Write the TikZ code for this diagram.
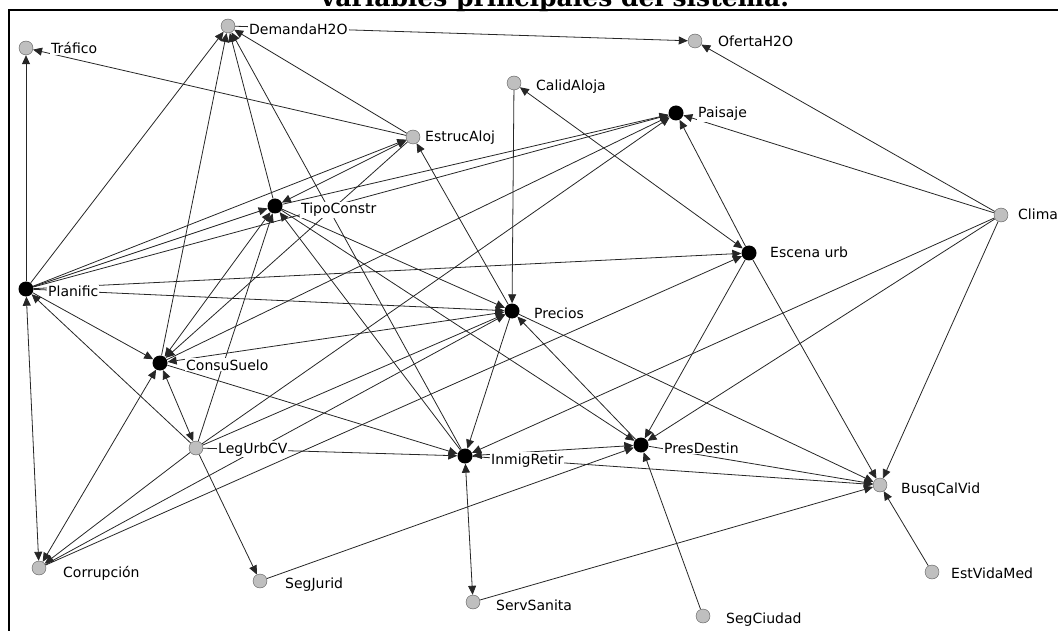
\documentclass[tikz,border=0pt]{standalone}
\usepackage{fontspec}
\setmainfont{DejaVu Sans}
\newfontfamily\titlefont{DejaVu Serif}
\usetikzlibrary{arrows.meta}
\pgfdeclarelayer{bg}
\pgfsetlayers{bg,main}

\begin{document}
\begin{tikzpicture}[x=1pt,y=-1pt,
  var/.style={circle,draw=black!65,fill=black!25,minimum size=14pt,inner sep=0pt},
  key/.style={circle,fill=black,minimum size=15pt,inner sep=0pt},
  lbl/.style={fill=white,inner sep=1pt,anchor=base west,font=\fontsize{14}{16}\selectfont},
  link/.style={draw=black!85,line width=0.8pt,-{Triangle[length=9pt,width=8pt]}},
  twoway/.style={link,{Triangle[length=9pt,width=8pt]}-{Triangle[length=9pt,width=8pt]}}]
  \useasboundingbox (0,0) rectangle (1058,631);
  \draw[line width=2pt] (9,10) rectangle (1075,645);
  \node[font=\titlefont\bfseries\fontsize{25}{28}\selectfont,anchor=base] (titulo) at (555,7) {variables principales del sistema.};

  % variables
  \node[var] (dem) at (228,26) {};
  \node[var] (traf) at (26,48) {};
  \node[var] (ofe) at (695,41) {};
  \node[var] (calid) at (514,83) {};
  \node[key] (paisaje) at (676,113) {};
  \node[var] (estruc) at (413,137) {};
  \node[key] (tipo) at (275,206) {};
  \node[var] (clima) at (1001,215) {};
  \node[key] (escena) at (749,253) {};
  \node[key] (plan) at (26,289) {};
  \node[key] (precios) at (512,311) {};
  \node[key] (consu) at (160,363) {};
  \node[var] (legurb) at (196,448) {};
  \node[key] (inmig) at (465,456) {};
  \node[key] (pres) at (641,445) {};
  \node[var] (busq) at (880,485) {};
  \node[var] (corr) at (39,568) {};
  \node[var] (segjur) at (260,581) {};
  \node[var] (estvid) at (932,572) {};
  \node[var] (serv) at (473,602) {};
  \node[var] (segciu) at (703,616) {};

  % labels
  \node[lbl] (tdem) at (248,35) {DemandaH2O};
  \node[lbl] (ttraf) at (50,54) {Tráfico};
  \node[lbl] (tofe) at (717,47) {OfertaH2O};
  \node[lbl] (tcalid) at (535,91) {CalidAloja};
  \node[lbl] (tpaisaje) at (697,118) {Paisaje};
  \node[lbl] (testruc) at (424,142) {EstrucAloj};
  \node[lbl] (ttipo) at (300,214) {TipoConstr};
  \node[lbl] (tclima) at (1017,220) {Clima};
  \node[lbl] (tescena) at (769,258) {Escena urb};
  \node[lbl] (tplan) at (47,297) {Planific};
  \node[lbl] (tprecios) at (533,319) {Precios};
  \node[lbl] (tconsu) at (185,370) {ConsuSuelo};
  \node[lbl] (tlegurb) at (217,453) {LegUrbCV};
  \node[lbl] (tinmig) at (490,464) {InmigRetir};
  \node[lbl] (tpres) at (663,453) {PresDestin};
  \node[lbl] (tbusq) at (900,493) {BusqCalVid};
  \node[lbl] (tcorr) at (62,577) {Corrupción};
  \node[lbl] (tsegjur) at (284,588) {SegJurid};
  \node[lbl] (tserv) at (495,610) {ServSanita};
  \node[lbl] (tsegciu) at (725,623) {SegCiudad};
  \node[lbl] (testvid) at (950,578) {EstVidaMed};

  \begin{pgfonlayer}{bg}
    \draw[link] (dem) -- (ofe);
    \foreach \t in {ofe,paisaje,inmig,pres,busq}
      \draw[link] (clima) -- (\t);
    \foreach \t in {traf,dem,paisaje,estruc,tipo,escena,precios,consu}
      \draw[link] (plan) -- (\t);
    \draw[twoway] (plan) -- (corr);
    \foreach \t in {traf,dem,consu}
      \draw[link] (estruc) -- (\t);
    \draw[twoway] (tipo) -- (estruc);
    \foreach \t in {dem,paisaje,inmig}
      \draw[link] (consu) -- (\t);
    \draw[twoway] (tipo) -- (consu);
    \foreach \t in {dem,paisaje,precios,pres}
      \draw[link] (tipo) -- (\t);
    \draw[link] (inmig) -- (dem);
    \draw[link] (inmig) -- (tipo);
    \draw[link] (calid) -- (precios);
    \draw[twoway] (calid) -- (escena);
    \foreach \t in {paisaje,tipo,precios,inmig,segjur,corr,plan}
      \draw[link] (legurb) -- (\t);
    \draw[twoway] (consu) -- (legurb);
    \draw[twoway] (consu) -- (corr);
    \foreach \t in {paisaje,busq,pres}
      \draw[link] (escena) -- (\t);
    \foreach \t in {estruc,inmig,busq}
      \draw[link] (precios) -- (\t);
    \draw[twoway] (precios) -- (consu);
    \draw[link] (pres) -- (precios);
    \draw[link] (pres) -- (busq);
    \draw[twoway] (inmig) -- (pres);
    \draw[link] (inmig) -- (busq);
    \draw[twoway] (inmig) -- (serv);
    \draw[link] (corr) -- (escena);
    \draw[link] (corr) -- (precios);
    \draw[link] (segjur) -- (pres);
    \draw[link] (serv) -- (busq);
    \draw[link] (segciu) -- (pres);
    \draw[link] (estvid) -- (busq);
  \end{pgfonlayer}
\end{tikzpicture}
\end{document}
